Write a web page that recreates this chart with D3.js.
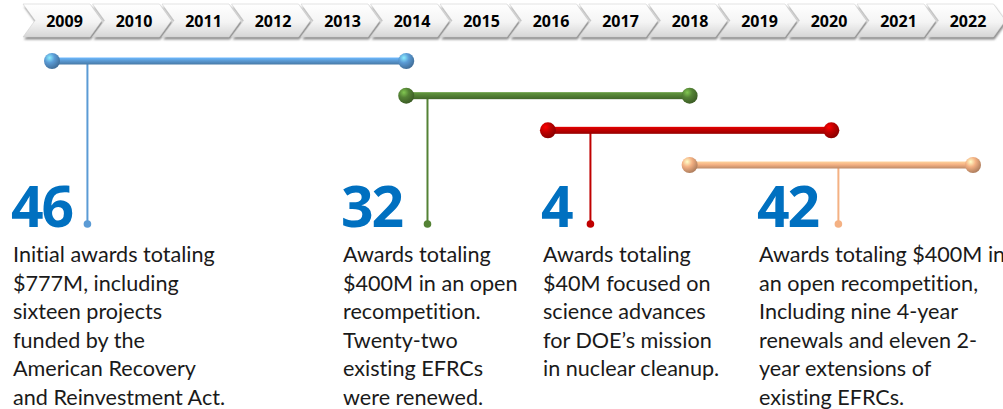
<!DOCTYPE html>
<html>
<head>
<meta charset="utf-8">
<script src="https://cdn.jsdelivr.net/npm/d3@7"></script>
<style>
  body { margin: 0; background: #fff; }
  svg { display: block; }
</style>
</head>
<body>
<div id="chart"></div>
<script>
var yearLabels = ["2009","2010","2011","2012","2013","2014","2015","2016","2017","2018","2019","2020","2021","2022"];

var startYears = [2009, 2014, 2016, 2018];
var endYears   = [2014, 2018, 2020, 2022];
var stemYears  = [2009.5, 2014.3, 2016.6, 2020.1];
var counts     = ["46", "32", "4", "42"];
var barColors  = ["#5b9bd5", "#548235", "#c00000", "#f4b183"];
var descriptions = [
  ["Initial awards totaling", "$777M, including", "sixteen projects", "funded by the", "American Recovery", "and Reinvestment Act."],
  ["Awards totaling", "$400M in an open", "recompetition.", "Twenty-two", "existing EFRCs", "were renewed."],
  ["Awards totaling", "$40M focused on", "science advances", "for DOE\u2019s mission", "in nuclear cleanup."],
  ["Awards totaling $400M in", "an open recompetition,", "Including nine 4-year", "renewals and eleven 2-", "year extensions of", "existing EFRCs."]
];

(function timeline(){
  var width = 1003, height = 409;
  var colX = [13, 343, 543, 759];   // text column left edges

  var svg = d3.select("#chart").append("svg")
      .attr("width", width)
      .attr("height", height);

  var defs = svg.append("defs");

  // chevron fill
  var cg = defs.append("linearGradient").attr("id", "chev").attr("x1", 0).attr("y1", 0).attr("x2", 0).attr("y2", 1);
  cg.append("stop").attr("offset", "0%").attr("stop-color", "#ffffff");
  cg.append("stop").attr("offset", "55%").attr("stop-color", "#f4f4f4");
  cg.append("stop").attr("offset", "100%").attr("stop-color", "#d6d6d6");

  var blur = defs.append("filter").attr("id", "shadow").attr("x", "-10%").attr("y", "-20%").attr("width", "120%").attr("height", "160%");
  blur.append("feGaussianBlur").attr("stdDeviation", 1.2);

  // bar + ball gradients per colour
  barColors.forEach(function(c, i){
    var g = defs.append("linearGradient").attr("id", "bar" + i).attr("x1", 0).attr("y1", 0).attr("x2", 0).attr("y2", 1);
    g.append("stop").attr("offset", "0%").attr("stop-color", d3.color(c).brighter(0.5));
    g.append("stop").attr("offset", "45%").attr("stop-color", c);
    g.append("stop").attr("offset", "100%").attr("stop-color", d3.color(c).darker(0.7));
    var r = defs.append("radialGradient").attr("id", "ball" + i).attr("cx", "35%").attr("cy", "30%").attr("r", "70%");
    r.append("stop").attr("offset", "0%").attr("stop-color", d3.color(c).brighter(1.2));
    r.append("stop").attr("offset", "45%").attr("stop-color", c);
    r.append("stop").attr("offset", "100%").attr("stop-color", d3.color(c).darker(0.9));
  });

  // scales
  var chevX = d3.scalePoint().domain(yearLabels).range([64.5, 968]);
  var x = d3.scaleLinear().domain([2009, 2022]).range([52, 973]);
  var rowY = d3.scalePoint().domain(d3.range(startYears.length)).range([61, 165]);

  // chevrons
  var chW = 67, chH = 33, tip = 12, chTop = 4;
  function chevron(cx){
    var l = cx - 41.5, m = chTop + chH / 2, b = chTop + chH;
    return [[l, chTop], [l + chW, chTop], [l + chW + tip, m], [l + chW, b], [l, b], [l + tip, m]]
      .map(function(p){ return p.join(","); }).join(" ");
  }
  var chev = svg.append("g").attr("class", "chevrons")
    .selectAll("g").data(yearLabels).enter().append("g");
  chev.append("polygon")
      .attr("points", function(d){ return chevron(chevX(d)); })
      .attr("transform", "translate(1,2.5)")
      .attr("fill", "#8a8a8a")
      .attr("filter", "url(#shadow)");
  chev.append("polygon")
      .attr("points", function(d){ return chevron(chevX(d)); })
      .attr("fill", "url(#chev)")
      .attr("stroke", "#d0d0d0")
      .attr("stroke-width", 0.6);
  chev.append("text")
      .attr("x", function(d){ return chevX(d); })
      .attr("y", 26.5)
      .attr("text-anchor", "middle")
      .style("font-family", "'Open Sans', sans-serif")
      .style("font-weight", "bold")
      .style("font-size", "16px")
      .style("fill", "#000")
      .text(function(d){ return d; });

  // stems
  var stemBottom = 224;
  var stems = svg.append("g").attr("class", "stems");
  stems.selectAll("line").data(stemYears).enter().append("line")
      .attr("x1", function(d){ return x(d); })
      .attr("x2", function(d){ return x(d); })
      .attr("y1", function(d, i){ return rowY(i); })
      .attr("y2", stemBottom)
      .attr("stroke", function(d, i){ return barColors[i]; })
      .attr("stroke-width", 2);
  stems.selectAll("circle").data(stemYears).enter().append("circle")
      .attr("cx", function(d){ return x(d); })
      .attr("cy", stemBottom)
      .attr("r", 3.8)
      .attr("fill", function(d, i){ return barColors[i]; });

  // bars
  var bars = svg.append("g").attr("class", "bars")
    .selectAll("g").data(startYears).enter().append("g");
  bars.append("rect")
      .attr("x", function(d){ return x(d); })
      .attr("y", function(d, i){ return rowY(i) - 3.5; })
      .attr("width", function(d, i){ return x(endYears[i]) - x(d); })
      .attr("height", 7)
      .attr("fill", function(d, i){ return "url(#bar" + i + ")"; });
  bars.append("circle")
      .attr("cx", function(d){ return x(d); })
      .attr("cy", function(d, i){ return rowY(i); })
      .attr("r", 8)
      .attr("fill", function(d, i){ return "url(#ball" + i + ")"; });
  bars.append("circle")
      .attr("cx", function(d, i){ return x(endYears[i]); })
      .attr("cy", function(d, i){ return rowY(i); })
      .attr("r", 8)
      .attr("fill", function(d, i){ return "url(#ball" + i + ")"; });

  // big numbers
  svg.append("g").attr("class", "counts")
    .selectAll("text").data(counts).enter().append("text")
      .attr("x", function(d, i){ return colX[i] - 2; })
      .attr("y", 227)
      .style("font-family", "'Open Sans', sans-serif")
      .style("font-weight", "bold")
      .style("font-size", "57px")
      .style("letter-spacing", "-2px")
      .style("fill", "#0070c0")
      .text(function(d){ return d; });

  // descriptions
  var desc = svg.append("g").attr("class", "desc")
    .selectAll("text").data(descriptions).enter().append("text")
      .attr("x", function(d, i){ return colX[i]; })
      .attr("y", 262)
      .style("font-family", "Lato, sans-serif")
      .style("font-size", "21.6px")
      .style("font-variant-ligatures", "none")
      .style("fill", "#1a1a1a");
  desc.selectAll("tspan").data(function(d, i){ return d.map(function(t){ return {t: t, i: i}; }); })
    .enter().append("tspan")
      .attr("x", function(d){ return colX[d.i]; })
      .attr("dy", function(d, j){ return j === 0 ? 0 : 28.6; })
      .text(function(d){ return d.t; });
}());
</script>
</body>
</html>
